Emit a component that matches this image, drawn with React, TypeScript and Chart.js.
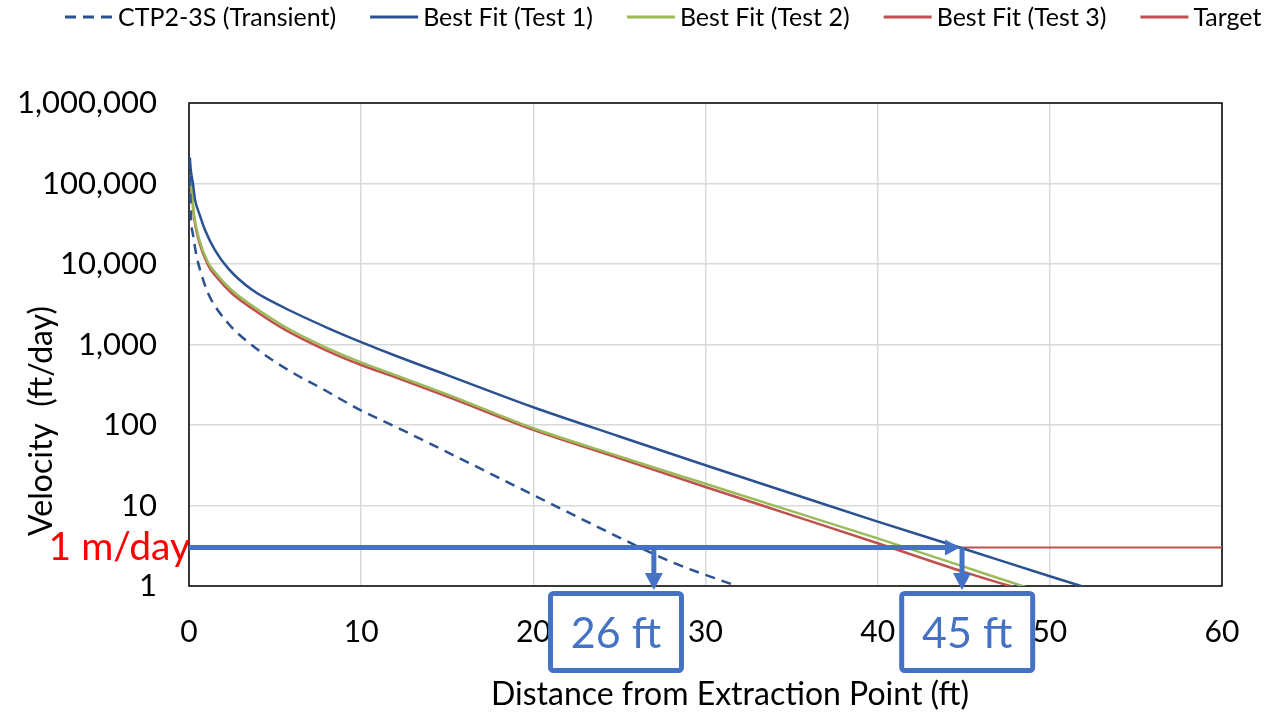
import React, { useEffect, useRef } from 'react';
import { Chart, registerables } from 'chart.js';

Chart.register(...registerables);

const FONT = 'Lato, "Open Sans", sans-serif';

// ---- data ----
const seriesLabels = ['CTP2-3S (Transient)', 'Best Fit (Test 1)', 'Best Fit (Test 2)', 'Best Fit (Test 3)', 'Target'];

const ctpX = [0.03, 0.1, 0.25, 0.46, 0.64, 1.1, 2.26, 3.66, 5.57, 7.9, 9.93, 12, 15, 20, 25, 28, 31.8];
const ctpV = [200000, 45000, 22000, 12000, 8500, 4370, 1850, 980, 510, 270, 154, 95, 46, 13.5, 4, 2.0, 1];

const test1X = [0.05, 0.1, 0.23, 0.35, 0.6, 0.93, 1.5, 2.26, 3.66, 5.57, 8.07, 10, 12, 15, 20, 25, 30, 35, 40, 45, 50, 52.5];
const test1V = [210000, 150000, 100000, 63000, 42000, 26500, 15000, 8900, 4780, 2840, 1600, 1070, 724, 417, 166, 72, 31.6, 14.1, 6.3, 2.9, 1.32, 0.9];

const test2X = [0.03, 0.15, 0.3, 0.6, 1.1, 1.5, 2.5, 3.83, 5.57, 7.9, 10, 12, 15, 20, 25, 30, 35, 40, 45, 48.4, 49];
const test2V = [125000, 85000, 40000, 20000, 10500, 7950, 4680, 2880, 1660, 930, 600, 417, 240, 91, 40.7, 18.6, 8.5, 3.9, 1.74, 1, 0.91];

const test3X = [0.03, 0.15, 0.3, 0.6, 1.1, 1.5, 2.5, 3.83, 5.57, 7.9, 10, 12, 15, 20, 25, 30, 35, 40, 45, 47.7, 48.5];
const test3V = [115000, 78000, 37000, 18500, 9700, 7300, 4300, 2650, 1530, 860, 556, 390, 225, 87, 38.5, 17, 7.6, 3.4, 1.5, 1, 0.9];

const targetX = [0, 60];
const targetV = [3, 3];

const yTickValues = [1, 10, 100, 1000, 10000, 100000, 1000000];
const xMin = 0;
const xMax = 60;
const xStep = 10;

const targetLabel = '1 m/day';
const markerX = [27.0, 44.9];
const markerLabels = ['26 ft', '45 ft'];

const xTitle = 'Distance from Extraction Point (ft)';
const yTitle = 'Velocity  (ft/day)';

// ---- colours ----
const DARK_BLUE = '#2A5290';
const GREEN = '#9BBB59';
const RED = '#C0504D';
const ARROW = '#4472C4';

const pts = (xs: number[], ys: number[]) => xs.map((x, i) => ({ x, y: ys[i] }));

const framePlugin = {
  id: 'frame',
  beforeDatasetsDraw(chart: any) {
    const { ctx, chartArea: a } = chart;
    ctx.save();
    ctx.strokeStyle = '#000';
    ctx.lineWidth = 1.5;
    ctx.strokeRect(a.left, a.top, a.right - a.left, a.bottom - a.top);
    ctx.restore();
  },
};

const annotationPlugin = {
  id: 'annot',
  afterDatasetsDraw(chart: any) {
    const { ctx, scales, chartArea: a } = chart;
    const xs = scales.x;
    const ys = scales.y;
    const yT = ys.getPixelForValue(targetV[0]);
    const x0 = xs.getPixelForValue(0);
    const xEnd = xs.getPixelForValue(markerX[1]);
    ctx.save();
    ctx.strokeStyle = ARROW;
    ctx.fillStyle = ARROW;
    ctx.lineWidth = 5;
    ctx.lineCap = 'butt';
    // horizontal arrow
    ctx.beginPath();
    ctx.moveTo(x0, yT);
    ctx.lineTo(xEnd - 14, yT);
    ctx.stroke();
    ctx.beginPath();
    ctx.moveTo(xEnd - 2, yT);
    ctx.lineTo(xEnd - 17, yT - 8);
    ctx.lineTo(xEnd - 17, yT + 8);
    ctx.closePath();
    ctx.fill();
    // vertical arrows
    const tip = a.bottom + 4;
    markerX.forEach((mx) => {
      const px = xs.getPixelForValue(mx);
      ctx.beginPath();
      ctx.moveTo(px, yT);
      ctx.lineTo(px, tip - 15);
      ctx.stroke();
      ctx.beginPath();
      ctx.moveTo(px, tip);
      ctx.lineTo(px - 9, tip - 17);
      ctx.lineTo(px + 9, tip - 17);
      ctx.closePath();
      ctx.fill();
    });
    ctx.restore();
  },
  afterDraw(chart: any) {
    const { ctx, scales, chartArea: a } = chart;
    const xs = scales.x;
    const ys = scales.y;
    ctx.save();
    // boxes with distances
    const boxCenters = [24.8, 45.2];
    markerLabels.forEach((lab, i) => {
      const cx = xs.getPixelForValue(boxCenters[i]);
      const w = 136;
      const h = 82;
      const top = a.bottom + 5;
      const left = cx - w / 2;
      ctx.fillStyle = '#fff';
      ctx.strokeStyle = ARROW;
      ctx.lineWidth = 5;
      ctx.beginPath();
      if ((ctx as any).roundRect) (ctx as any).roundRect(left + 2.5, top + 2.5, w - 5, h - 5, 3);
      else ctx.rect(left + 2.5, top + 2.5, w - 5, h - 5);
      ctx.fill();
      ctx.stroke();
      ctx.fillStyle = ARROW;
      ctx.font = `43px ${FONT}`;
      ctx.textAlign = 'center';
      ctx.textBaseline = 'alphabetic';
      ctx.fillText(lab, cx, top + 57);
    });
    // target label
    const yT = ys.getPixelForValue(targetV[0]);
    ctx.fillStyle = '#FF0000';
    ctx.font = `39px ${FONT}`;
    ctx.textAlign = 'right';
    ctx.textBaseline = 'alphabetic';
    ctx.fillText(targetLabel, a.left + 1, yT + 12);
    // axis titles
    ctx.fillStyle = '#000';
    ctx.font = `32px ${FONT}`;
    ctx.textAlign = 'center';
    ctx.textBaseline = 'middle';
    ctx.fillText(xTitle, 730, 695);
    ctx.save();
    ctx.translate(42, 421);
    ctx.rotate(-Math.PI / 2);
    ctx.fillText(yTitle, 0, 0);
    ctx.restore();
    // legend
    const ds = chart.data.datasets;
    ctx.font = `25px ${FONT}`;
    ctx.textAlign = 'left';
    ctx.textBaseline = 'middle';
    let x = 65;
    const y = 18;
    ds.forEach((d: any) => {
      ctx.save();
      ctx.strokeStyle = d.borderColor;
      ctx.lineWidth = 3;
      ctx.setLineDash(d.borderDash && d.borderDash.length ? [11, 7] : []);
      ctx.beginPath();
      ctx.moveTo(x, y - 1);
      ctx.lineTo(x + 48, y - 1);
      ctx.stroke();
      ctx.restore();
      ctx.fillStyle = '#000';
      ctx.fillText(d.label, x + 53, y);
      x += 53 + ctx.measureText(d.label).width + 34;
    });
    ctx.restore();
  },
};

export default function App() {
  const ref = useRef<HTMLCanvasElement>(null);
  useEffect(() => {
    if (!ref.current) return;
    const chart = new Chart(ref.current, {
      type: 'line',
      data: {
        datasets: [
          { label: seriesLabels[0], data: pts(ctpX, ctpV), borderColor: DARK_BLUE, borderWidth: 2.5, borderDash: [10, 7], pointRadius: 0, cubicInterpolationMode: 'monotone', fill: false },
          { label: seriesLabels[1], data: pts(test1X, test1V), borderColor: DARK_BLUE, borderWidth: 2.5, pointRadius: 0, cubicInterpolationMode: 'monotone', fill: false },
          { label: seriesLabels[2], data: pts(test2X, test2V), borderColor: GREEN, borderWidth: 2.5, pointRadius: 0, cubicInterpolationMode: 'monotone', fill: false },
          { label: seriesLabels[3], data: pts(test3X, test3V), borderColor: RED, borderWidth: 2.5, pointRadius: 0, cubicInterpolationMode: 'monotone', fill: false },
          { label: seriesLabels[4], data: pts(targetX, targetV), borderColor: RED, borderWidth: 2, pointRadius: 0, fill: false },
        ],
      },
      options: {
        animation: false,
        responsive: false,
        events: [],
        layout: { padding: { top: 103, right: 59, left: 0, bottom: 0 } },
        plugins: { legend: { display: false }, tooltip: { enabled: false } },
        scales: {
          x: {
            type: 'linear',
            min: xMin,
            max: xMax,
            afterFit: (s: any) => { s.height = 130; },
            grid: { color: '#D9D9D9', lineWidth: 1.5, drawTicks: false },
            border: { display: false },
            ticks: { stepSize: xStep, padding: 28, color: '#000', font: { family: FONT, size: 30 } },
          },
          y: {
            type: 'logarithmic',
            min: yTickValues[0],
            max: yTickValues[yTickValues.length - 1],
            afterFit: (s: any) => { s.width = 189; },
            afterBuildTicks: (s: any) => { s.ticks = yTickValues.map((v) => ({ value: v, major: true })); },
            grid: { color: '#D9D9D9', lineWidth: 1.5, drawTicks: false },
            border: { display: false },
            ticks: {
              padding: 32,
              color: '#000',
              font: { family: FONT, size: 31 },
              callback: (v: any) => Number(v).toLocaleString('en-US'),
            },
          },
        },
      },
      plugins: [framePlugin, annotationPlugin],
    } as any);
    return () => chart.destroy();
  }, []);
  return (
    <div style={{ position: 'fixed', left: 0, top: 0, width: 1281, height: 716, background: '#fff' }}>
      <canvas ref={ref} width={1281} height={716} />
    </div>
  );
}
